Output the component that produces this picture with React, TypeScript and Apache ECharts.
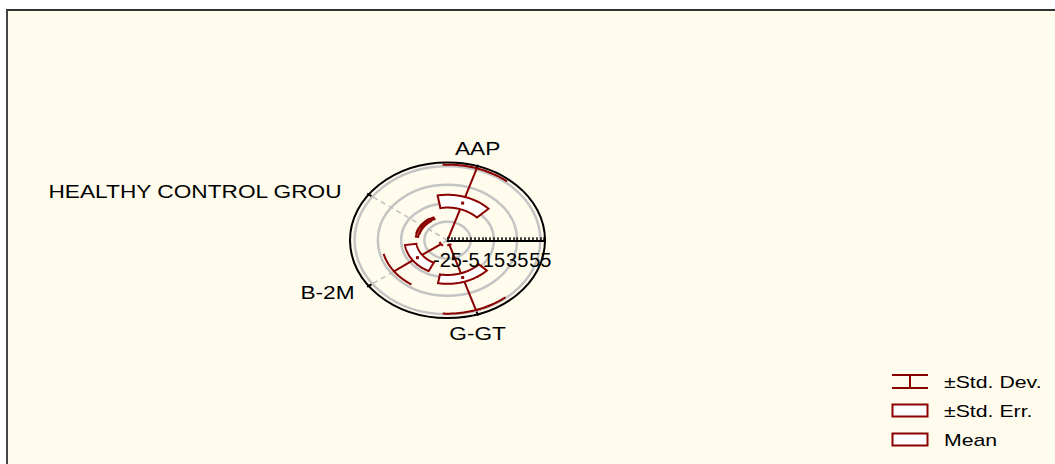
import React, { useEffect, useRef } from "react";
import * as echarts from "echarts";

// ---------- data ----------
const categories = ["AAP", "HEALTHY CONTROL GROU", "B-2M", "G-GT"];
const categoryAngles = [72, 144, 216, 288];
const means = [17.2, 1.5, 7, 17.3];
const stdErrs = [6.9, 1, 5, 4.8];
const stdDevs = [39.5, 1.5, 25, 37];
const radialTicks = [-25, -5, 15, 35, 55];
const RADIAL_MIN = -25;
const RADIAL_MAX = 59;
const RADIAL_INTERVAL = 20;
const legendItems = ["±Std. Dev.", "±Std. Err.", "Mean"];

// ---------- styles ----------
const RED = "#8B0000";
const FONT = "Liberation Sans, Arial, sans-serif";
const CX = 447.5;
const CY = 240.25;
const RX = 97.5;
const RY = 77.75;
const BOX_HALF = 28;
const CAP_HALF = 21;

function helpers(api: any) {
  const pt = (v: number, deg: number) => {
    const r = Math.max(v - RADIAL_MIN, 0);
    const a = (deg * Math.PI) / 180;
    return api.coord([r * Math.cos(a), r * Math.sin(a)]);
  };
  const arc = (v: number, a0: number, a1: number, n = 48) => {
    const pts: number[][] = [];
    for (let k = 0; k <= n; k++) pts.push(pt(v, a0 + ((a1 - a0) * k) / n));
    return pts;
  };
  return { pt, arc };
}

function renderBackground(params: any, api: any) {
  const { pt } = helpers(api);
  const c = api.coord([0, 0]);
  const children: any[] = [];
  const ell = (v: number) => {
    const px = api.coord([v - RADIAL_MIN, 0]);
    const py = api.coord([0, v - RADIAL_MIN]);
    return { cx: c[0], cy: c[1], rx: px[0] - c[0], ry: c[1] - py[1] };
  };
  radialTicks.slice(1).forEach((v) => {
    children.push({
      type: "ellipse",
      shape: ell(v),
      style: { fill: "none", stroke: "#C4C4C4", lineWidth: 2.5 },
    });
  });
  categoryAngles.forEach((a) => {
    const p0 = pt(RADIAL_MIN, a);
    const p1 = pt(RADIAL_MAX, a);
    children.push({
      type: "line",
      shape: { x1: p0[0], y1: p0[1], x2: p1[0], y2: p1[1] },
      style: { stroke: "#BEBEBE", lineWidth: 1.5, lineDash: [5, 4] },
    });
  });
  children.push({
    type: "ellipse",
    shape: ell(RADIAL_MAX),
    style: { fill: "none", stroke: "#000", lineWidth: 2 },
  });
  categoryAngles.forEach((a, i) => {
    const t0 = pt(RADIAL_MAX - 3, a);
    const t1 = pt(RADIAL_MAX + 1.5, a);
    children.push({
      type: "line",
      shape: { x1: t0[0], y1: t0[1], x2: t1[0], y2: t1[1] },
      style: { stroke: "#000", lineWidth: 2 },
    });
    const tp = pt(RADIAL_MAX, a);
    const rad = (a * Math.PI) / 180;
    const cs = Math.cos(rad);
    const sn = Math.sin(rad);
    let x = tp[0];
    let y = tp[1];
    let align = "center";
    if (Math.abs(cs) < 0.5) {
      y = sn > 0 ? tp[1] - 18 : tp[1] + 19;
    } else {
      align = cs < 0 ? "right" : "left";
      const dx = sn > 0 ? 27 : 14;
      x = cs < 0 ? tp[0] - dx : tp[0] + dx;
      y = sn > 0 ? tp[1] - 3 : tp[1] + 6;
    }
    children.push({
      type: "text",
      x,
      y,
      scaleX: 1.26,
      style: {
        text: categories[i],
        fontSize: 18,
        fontFamily: FONT,
        fill: "#000",
        align,
        verticalAlign: "middle",
      },
    });
  });
  return { type: "group", children };
}

function renderBox(params: any, api: any) {
  const { pt, arc } = helpers(api);
  const i = params.dataIndex;
  const a = categoryAngles[i];
  const m = means[i];
  const se = stdErrs[i];
  const sd = stdDevs[i];
  const children: any[] = [];
  const line = (p: number[], q: number[]) => ({
    type: "line",
    shape: { x1: p[0], y1: p[1], x2: q[0], y2: q[1] },
    style: { stroke: RED, lineWidth: 2 },
  });
  children.push(line(pt(m + se, a), pt(m + sd, a)));
  children.push(line(pt(m - se, a), pt(m - sd, a)));
  children.push({
    type: "polyline",
    shape: { points: arc(m + sd, a - CAP_HALF, a + CAP_HALF) },
    style: { fill: "none", stroke: RED, lineWidth: 2 },
  });
  if (m - sd > RADIAL_MIN) {
    children.push({
      type: "polyline",
      shape: { points: arc(m - sd, a - CAP_HALF, a + CAP_HALF) },
      style: { fill: "none", stroke: RED, lineWidth: 2 },
    });
  }
  const outer = arc(m + se, a - BOX_HALF, a + BOX_HALF);
  const inner = arc(m - se, a + BOX_HALF, a - BOX_HALF);
  children.push({
    type: "polygon",
    shape: { points: outer.concat(inner) },
    style: { fill: "#FFFFFF", stroke: RED, lineWidth: 2 },
  });
  const mp = pt(m, a);
  children.push({
    type: "rect",
    shape: { x: mp[0] - 1.5, y: mp[1] - 1.5, width: 3, height: 3 },
    style: { fill: RED },
  });
  return { type: "group", children };
}

function buildOption(): any {
  const span = RADIAL_MAX - RADIAL_MIN;
  const legendStyle = { stroke: RED, lineWidth: 2 };
  const legendText = (text: string, y: number) => ({
    type: "text",
    x: 944,
    y,
    scaleX: 1.33,
    style: { text, fontSize: 16, fontFamily: FONT, fill: "#000", align: "left", verticalAlign: "middle" },
  });
  return {
    animation: false,
    grid: [
      { left: CX - RX, top: CY - RY, width: 2 * RX, height: 2 * RY },
      { left: CX, top: CY - 1, width: RX, height: 1 },
    ],
    xAxis: [
      { gridIndex: 0, type: "value", min: -span, max: span, show: false },
      {
        gridIndex: 1,
        type: "value",
        min: RADIAL_MIN,
        max: RADIAL_MAX,
        interval: RADIAL_INTERVAL,
        z: 5,
        axisLine: { show: true, lineStyle: { color: "#000", width: 2 } },
        axisTick: { show: true, inside: true, length: 3, lineStyle: { color: "#000", width: 1.5 } },
        minorTick: { show: true, splitNumber: 6, length: 3, lineStyle: { color: "#000", width: 1.5 } },
        splitLine: { show: false },
        axisLabel: { fontSize: 20, color: "#000", fontFamily: FONT, margin: 10, showMaxLabel: false },
      },
    ],
    yAxis: [
      { gridIndex: 0, type: "value", min: -span, max: span, show: false },
      { gridIndex: 1, type: "value", min: 0, max: 1, show: false },
    ],
    series: [
      {
        type: "custom",
        xAxisIndex: 0,
        yAxisIndex: 0,
        z: 1,
        silent: true,
        data: [[0, 0]],
        renderItem: renderBackground,
      },
      {
        type: "custom",
        xAxisIndex: 0,
        yAxisIndex: 0,
        z: 3,
        silent: true,
        data: categories.map((_, i) => [i, 0]),
        renderItem: renderBox,
      },
    ],
    graphic: [
      { type: "line", shape: { x1: 892, y1: 375, x2: 928, y2: 375 }, style: legendStyle },
      { type: "line", shape: { x1: 892, y1: 388, x2: 928, y2: 388 }, style: legendStyle },
      { type: "line", shape: { x1: 910, y1: 375, x2: 910, y2: 388 }, style: legendStyle },
      legendText(legendItems[0], 382.5),
      { type: "rect", shape: { x: 892.5, y: 404.5, width: 35, height: 12 }, style: { fill: "#fff", ...legendStyle } },
      legendText(legendItems[1], 411),
      { type: "rect", shape: { x: 892.5, y: 433.5, width: 35, height: 12 }, style: { fill: "#fff", ...legendStyle } },
      legendText(legendItems[2], 440),
    ],
  };
}

export default function App() {
  const ref = useRef<HTMLDivElement>(null);
  useEffect(() => {
    const chart = echarts.init(ref.current as HTMLDivElement, null, { renderer: "svg" });
    chart.setOption(buildOption());
    return () => chart.dispose();
  }, []);
  return (
    <div style={{ position: "fixed", left: 0, top: 0, width: 1055, height: 464, overflow: "hidden", background: "#fff" }}>
      <div
        style={{
          position: "absolute",
          left: 6,
          top: 9,
          width: 1200,
          height: 600,
          background: "#FFFCEE",
          borderLeft: "2px solid #444",
          borderTop: "2px solid #333",
        }}
      />
      <div ref={ref} style={{ position: "absolute", left: 0, top: 0, width: 1055, height: 464 }} />
    </div>
  );
}
